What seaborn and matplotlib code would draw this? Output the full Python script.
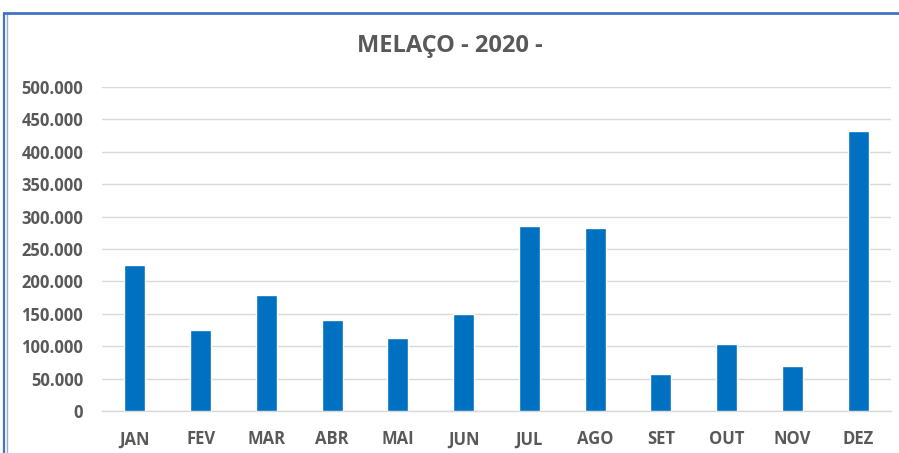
import seaborn as sns
import matplotlib.pyplot as plt
from matplotlib.lines import Line2D
from matplotlib.ticker import FuncFormatter, MultipleLocator

meses = ["JAN", "FEV", "MAR", "ABR", "MAI", "JUN", "JUL", "AGO", "SET", "OUT", "NOV", "DEZ"]
quantidades = [225000, 125000, 179000, 140000, 113000, 150000, 285000, 282000, 57000, 103000, 70000, 432000]

sns.set_style("white")
plt.rcParams['font.family'] = ['Open Sans', 'DejaVu Sans']

fig = plt.figure(figsize=(8.99, 4.53), dpi=100)
ax = fig.add_axes([102 / 899, 1 - 411 / 453, (891 - 102) / 899, (411 - 87) / 453])

sns.barplot(x=meses, y=quantidades, color="#0070C0", saturation=1, width=0.32, ax=ax, zorder=3)

cinza = "#595959"
ax.set_ylim(0, 500000)
ax.yaxis.set_major_locator(MultipleLocator(50000))
ax.yaxis.set_major_formatter(FuncFormatter(lambda v, p: f"{v:,.0f}".replace(",", ".")))
ax.grid(axis="y", color="#D9D9D9", linewidth=1, zorder=0)
for s in ["top", "right", "left"]:
    ax.spines[s].set_visible(False)
ax.spines["bottom"].set_color("#D9D9D9")
ax.spines["bottom"].set_linewidth(1)
ax.tick_params(axis="both", length=0, labelsize=12, labelcolor=cinza)
ax.tick_params(axis="y", pad=13.5)
ax.tick_params(axis="x", pad=14)
for lbl in ax.get_xticklabels() + ax.get_yticklabels():
    lbl.set_fontweight("bold")
ax.set_xlabel("")
ax.set_ylabel("")

fig.text(0.5, 1 - 46 / 453, "MELAÇO - 2020 -", ha="center", va="center",
         fontsize=17, fontweight="bold", color=cinza)

# moldura azul cortada do print
fig.add_artist(Line2D([4 / 899, 4 / 899], [0, 1 - 13 / 453], color="#4472C4", linewidth=1.6, transform=fig.transFigure))
fig.add_artist(Line2D([7 / 899, 7 / 899], [0, 1 - 13 / 453], color="#8FAADC", linewidth=1, transform=fig.transFigure))
fig.add_artist(Line2D([4 / 899, 1], [1 - 13 / 453, 1 - 13 / 453], color="#4472C4", linewidth=2, transform=fig.transFigure))

fig.savefig("out.png", dpi=100)
